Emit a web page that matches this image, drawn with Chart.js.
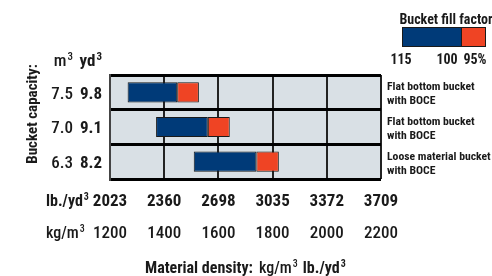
<!DOCTYPE html>
<html>
<head>
<meta charset="utf-8">
<script src="https://cdn.jsdelivr.net/npm/chart.js@4"></script>
<style>
  html, body { margin: 0; padding: 0; background: #fff; }
  #wrap { width: 492px; height: 276px; position: relative; }
</style>
</head>
<body>
<div id="wrap"><canvas id="myChart" width="492" height="276"></canvas></div>
<script>
// values
var bucketTypes = [['Flat bottom bucket', 'with BOCE'], ['Flat bottom bucket', 'with BOCE'], ['Loose material bucket', 'with BOCE']];
var capacityM3 = ['7.5', '7.0', '6.3'];
var capacityYd3 = ['9.8', '9.1', '8.2'];
var density115 = [1265, 1370, 1509];
var density100 = [1448, 1561, 1740];
var density95 = [1528, 1642, 1823];
var kgTicks = [1200, 1400, 1600, 1800, 2000, 2200];
var lbTicks = ['2023', '2360', '2698', '3035', '3372', '3709'];
var fillFactorLabels = ['115', '100', '95%'];

var FONT = "'Roboto Condensed', 'DejaVu Sans Condensed', sans-serif";
var BLUE = '#003a78';
var ORANGE = '#ef4424';
var INK = '#1a1a1a';

function fixSize(w, h) {
  return function (scale) {
    if (w != null) scale.width = w;
    if (h != null) scale.height = h;
  };
}

// draws text with a raised "3" where ^ appears
function supText(ctx, str, x, y, size, weight, align) {
  var parts = str.split('^');
  var big = weight + ' ' + size + 'px ' + FONT;
  var small = weight + ' ' + Math.round(size * 0.62) + 'px ' + FONT;
  ctx.font = big;
  var w0 = ctx.measureText(parts[0]).width;
  ctx.font = small;
  var w1 = parts[1] ? ctx.measureText(parts[1]).width + 1 : 0;
  var start = align === 'right' ? x - w0 - w1 : x;
  ctx.textAlign = 'left';
  ctx.font = big;
  ctx.fillText(parts[0], start, y);
  if (parts[1]) {
    ctx.font = small;
    ctx.fillText(parts[1], start + w0 + 1, y - size * 0.38);
  }
  return w0 + w1;
}

var extras = {
  id: 'extras',
  beforeDraw: function (chart) {
    var a = chart.chartArea, ctx = chart.ctx;
    ctx.save();
    ctx.fillStyle = '#d9e0e5';
    ctx.fillRect(a.left, a.top, a.right - a.left, a.bottom - a.top);
    ctx.restore();
  },
  afterDraw: function (chart) {
    var ctx = chart.ctx;
    ctx.save();
    ctx.fillStyle = INK;
    ctx.textBaseline = 'alphabetic';

    // rotated capacity title
    ctx.save();
    ctx.translate(33, 114);
    ctx.rotate(-Math.PI / 2);
    ctx.textAlign = 'center';
    ctx.textBaseline = 'middle';
    ctx.font = 'bold 15px ' + FONT;
    ctx.fillText('Bucket capacity:', 0, 0);
    ctx.restore();

    // column heads over the capacity labels
    supText(ctx, 'm^3', 73, 66, 17, '500', 'right');
    supText(ctx, 'yd^3', 102, 66, 17, 'bold', 'right');

    // unit names in front of the two tick rows
    supText(ctx, 'lb./yd^3', 46, 206, 16, 'bold', 'left');
    supText(ctx, 'kg/m^3', 46, 238, 16, '500', 'left');

    // axis title at the bottom
    var x = 145, y = 273;
    ctx.font = 'bold 16px ' + FONT;
    ctx.fillText('Material density:', x, y);
    x += ctx.measureText('Material density:').width + 6;
    x += supText(ctx, 'kg/m^3', x, y, 16, '500', 'left') + 5;
    supText(ctx, 'lb./yd^3', x, y, 16, 'bold', 'left');

    // fill factor key
    ctx.font = 'bold 14px ' + FONT;
    ctx.textAlign = 'center';
    ctx.fillText('Bucket fill factor', 446, 24);
    ctx.fillStyle = BLUE;
    ctx.fillRect(402, 27, 59, 20);
    ctx.fillStyle = ORANGE;
    ctx.fillRect(461, 27, 25, 20);
    ctx.strokeStyle = INK;
    ctx.lineWidth = 1;
    ctx.strokeRect(402.5, 27.5, 83, 19);
    ctx.beginPath();
    ctx.moveTo(461.5, 27);
    ctx.lineTo(461.5, 47);
    ctx.stroke();
    ctx.fillStyle = INK;
    ctx.font = 'bold 14px ' + FONT;
    ctx.fillText(fillFactorLabels[0], 401, 64);
    ctx.fillText(fillFactorLabels[1], 447, 64);
    ctx.fillText(fillFactorLabels[2], 475, 64);
    ctx.restore();
  }
};

var ctx = document.getElementById('myChart');
var chart = new Chart(ctx, {
  type: 'bar',
  data: {
    labels: capacityYd3,
    datasets: [{
      data: density115.map(function (v, i) { return [v, density100[i]]; }),
      backgroundColor: BLUE
    }, {
      data: density100.map(function (v, i) { return [v, density95[i]]; }),
      backgroundColor: ORANGE
    }]
  },
  options: {
    indexAxis: 'y',
    responsive: false,
    animation: false,
    layout: { padding: { top: 75, left: 0, right: 0, bottom: 31 } },
    datasets: {
      bar: {
        grouped: false,
        borderColor: INK,
        borderWidth: 1,
        borderSkipped: false,
        categoryPercentage: 1,
        barPercentage: 0.58
      }
    },
    plugins: { legend: { display: false }, tooltip: { enabled: false } },
    scales: {
      x: {
        type: 'linear', position: 'bottom', weight: 1,
        min: kgTicks[0], max: kgTicks[kgTicks.length - 1],
        afterBuildTicks: function (s) { s.ticks = kgTicks.map(function (v) { return { value: v }; }); },
        afterFit: fixSize(null, 30),
        grid: { color: '#222', lineWidth: 2, drawTicks: false },
        border: { display: false },
        ticks: {
          color: INK, padding: 9, font: { family: FONT, size: 17, weight: '500' },
          callback: function (v) { return String(v); }
        }
      },
      x2: {
        type: 'linear', position: 'bottom', weight: 0,
        min: kgTicks[0], max: kgTicks[kgTicks.length - 1],
        afterBuildTicks: function (s) { s.ticks = kgTicks.map(function (v) { return { value: v }; }); },
        afterFit: fixSize(null, 36),
        grid: { display: false, drawTicks: false },
        border: { display: false },
        ticks: {
          color: INK, padding: 13, font: { family: FONT, size: 17, weight: 'bold' },
          callback: function (v, i) { return lbTicks[i]; }
        }
      },
      y: {
        type: 'category', position: 'left', weight: 0,
        labels: capacityYd3,
        afterFit: fixSize(34, null),
        grid: { color: '#000', lineWidth: 3, drawTicks: false },
        border: { color: '#444', width: 2 },
        ticks: { color: INK, padding: 8, labelOffset: 2, font: { family: FONT, size: 17, weight: 'bold' } }
      },
      y2: {
        type: 'category', position: 'left', weight: 1,
        labels: capacityM3,
        afterFit: fixSize(76, null),
        grid: { display: false, drawTicks: false },
        border: { display: false },
        ticks: { color: INK, padding: 3, labelOffset: 2, font: { family: FONT, size: 17, weight: '500' } }
      },
      y3: {
        type: 'category', position: 'right',
        labels: bucketTypes,
        afterFit: fixSize(111, null),
        grid: { display: false, drawTicks: false },
        border: { display: false },
        ticks: { color: INK, padding: 6, labelOffset: 2, font: { family: FONT, size: 11.7, weight: 'bold', lineHeight: 1.2 } }
      }
    }
  },
  plugins: [extras]
});
</script>
</body>
</html>
